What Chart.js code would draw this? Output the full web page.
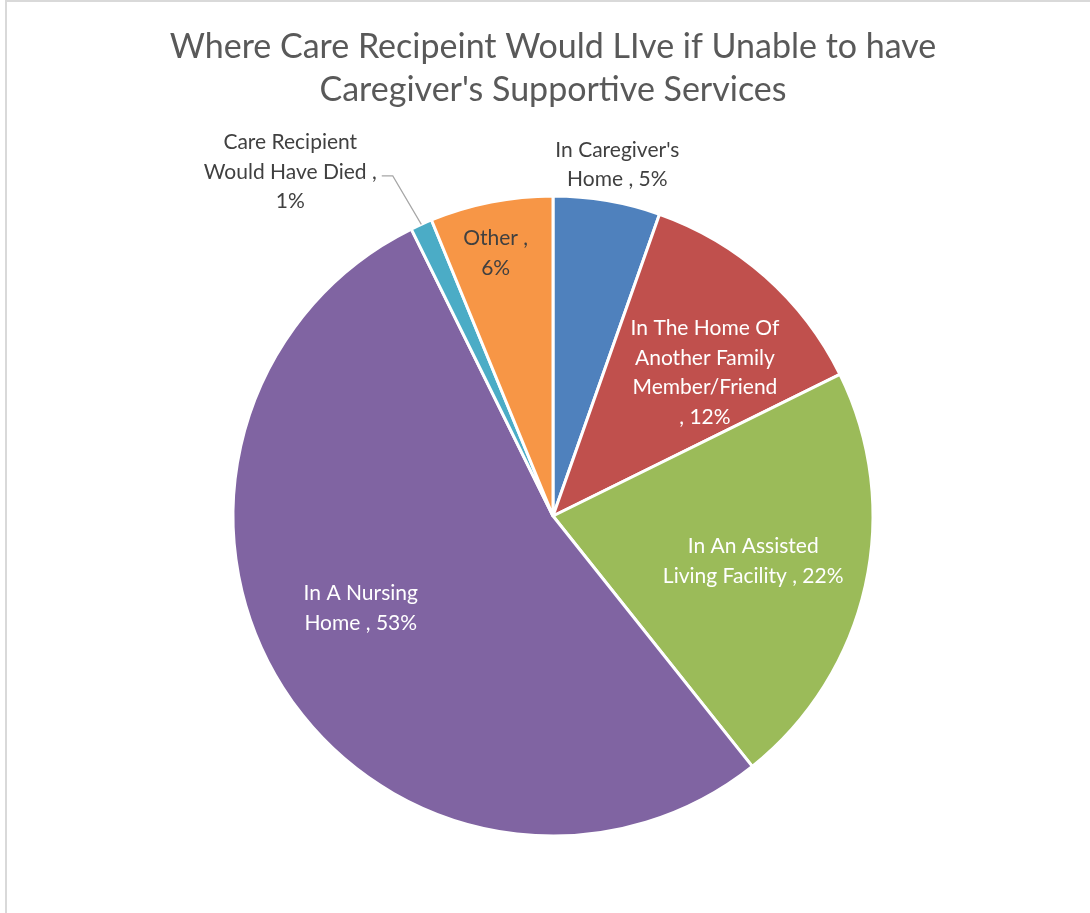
<!DOCTYPE html>
<html>
<head>
<meta charset="utf-8">
<script src="https://cdn.jsdelivr.net/npm/chart.js@4/dist/chart.umd.min.js"></script>
<style>
  html, body { margin: 0; padding: 0; background: #fff; overflow: hidden; }
  #wrap { position: relative; width: 1090px; height: 913px; }
  #frame { position: absolute; left: 5px; top: 0; width: 2000px; height: 2000px;
           border-left: 2px solid #d9d9d9; border-top: 2px solid #d9d9d9; pointer-events: none; }
  canvas { position: absolute; left: 0; top: 0; }
</style>
</head>
<body>
<div id="wrap">
  <canvas id="c" width="1090" height="913"></canvas>
  <div id="frame"></div>
</div>
<script>
const titleLines = ["Where Care Recipeint Would LIve if Unable to have", "Caregiver's Supportive Services"];
const categories = ["In Caregiver's Home", "In The Home Of Another Family Member/Friend", "In An Assisted Living Facility", "In A Nursing Home", "Care Recipient Would Have Died", "Other"];
const values = [5.4, 12.3, 21.6, 53.4, 1.1, 6.2];
const labelLines = [
  ["In Caregiver's", "Home , {p}"],
  ["In The Home Of", "Another Family", "Member/Friend", ", {p}"],
  ["In An Assisted", "Living Facility , {p}"],
  ["In A Nursing", "Home , {p}"],
  ["Care Recipient", "Would Have Died ,", "{p}"],
  ["Other ,", "{p}"]
];
const colors = ["#4F81BD", "#C0504D", "#9BBB59", "#8064A2", "#4BACC6", "#F79646"];
const labelColors = ["#404040", "#ffffff", "#ffffff", "#ffffff", "#404040", "#404040"];
// label placement: radial factor and angle nudge (deg), leader line flag
const labelPlace = [
  {r: 1.122, a: 0.6, leader: false},
  {r: 0.657, a: 4.7, leader: false},
  {r: 0.64, a: -0.4, leader: false},
  {r: 0.664, a: 7.2, leader: false},
  {r: 1.358, a: -12.9, leader: true},
  {r: 0.846, a: -1.07, leader: false}
];
const LABEL_FONT = '21px Lato';
const LINE_H = 29.5;
const TEXT_SHIFT_Y = 2;

const labelPlugin = {
  id: 'pieLabels',
  afterDatasetsDraw(chart) {
    const ctx = chart.ctx;
    const meta = chart.getDatasetMeta(0);
    const data = chart.data.datasets[0].data;
    const total = data.reduce((s, v) => s + v, 0);
    ctx.save();
    ctx.font = LABEL_FONT;
    ctx.textAlign = 'center';
    ctx.textBaseline = 'middle';
    meta.data.forEach((arc, i) => {
      const {x, y, startAngle, endAngle, outerRadius} = arc.getProps(['x','y','startAngle','endAngle','outerRadius'], true);
      const mid = (startAngle + endAngle) / 2;
      const place = labelPlace[i];
      const ang = mid + place.a * Math.PI / 180;
      const cx = x + Math.cos(ang) * outerRadius * place.r;
      const cy = y + Math.sin(ang) * outerRadius * place.r;
      const pct = Math.round(data[i] / total * 100) + '%';
      const lines = labelLines[i].map(s => s.replace('{p}', pct));
      const h = lines.length * LINE_H;
      if (place.leader) {
        let w = 0;
        lines.forEach(s => { w = Math.max(w, ctx.measureText(s).width); });
        const px = x + Math.cos(mid) * outerRadius;
        const py = y + Math.sin(mid) * outerRadius;
        const ey = cy + 6;
        const ex0 = cx + w / 2 + 5;
        const ex1 = ex0 + 11;
        ctx.strokeStyle = '#A6A6A6';
        ctx.lineWidth = 1.2;
        ctx.beginPath();
        ctx.moveTo(ex0, ey);
        ctx.lineTo(ex1, ey);
        ctx.lineTo(px, py);
        ctx.stroke();
      }
      ctx.fillStyle = labelColors[i];
      lines.forEach((s, k) => {
        ctx.fillText(s, cx, cy - h / 2 + LINE_H * (k + 0.5) + TEXT_SHIFT_Y);
      });
    });
    ctx.restore();
  }
};

new Chart(document.getElementById('c'), {
  type: 'pie',
  data: {
    labels: categories,
    datasets: [{
      data: values,
      backgroundColor: colors,
      borderColor: '#ffffff',
      borderWidth: 3,
      radius: 320
    }]
  },
  options: {
    responsive: false,
    animation: false,
    devicePixelRatio: 1,
    layout: { padding: { left: 16, right: 0, top: 0, bottom: 79 } },
    plugins: {
      legend: { display: false },
      tooltip: { enabled: false },
      title: {
        display: true,
        text: titleLines,
        color: '#595959',
        font: { family: 'Lato', size: 34, weight: 'normal', lineHeight: 1.25 },
        padding: { top: 26, bottom: 87 }
      }
    }
  },
  plugins: [labelPlugin]
});
</script>
</body>
</html>
